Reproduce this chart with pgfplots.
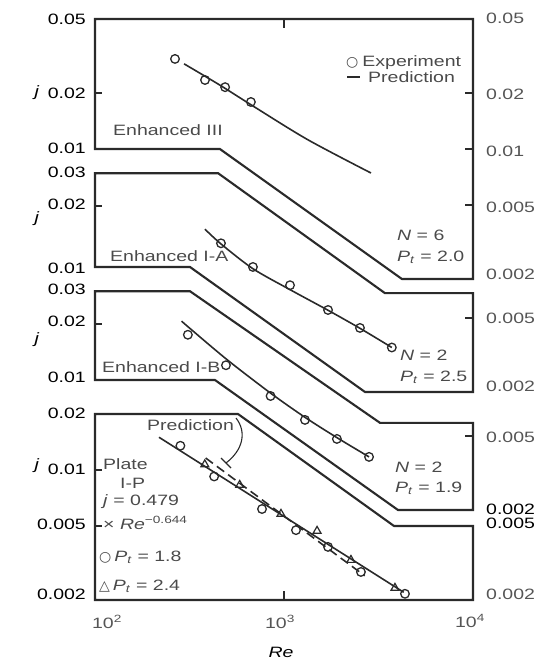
\documentclass[border=0pt]{standalone}
\usepackage{pgfplots}
\pgfplotsset{compat=1.18}
\usepackage{fontspec}
\setmainfont{Liberation Sans}[FakeStretch=1.3]
\newfontfamily\sym{DejaVu Sans}
\definecolor{ink}{HTML}{2A2A2A}
\definecolor{txt}{HTML}{4A4A4A}
\definecolor{rtxt}{HTML}{555555}
\tikzset{myframe/.style={draw=ink, line width=2.1pt, line join=miter},
  mytk/.style={draw=ink, line width=1.3pt},
  labL/.style={anchor=east, inner sep=0pt, text=black},
  labR/.style={anchor=west, inner sep=0pt, text=rtxt},
  labT/.style={anchor=west, inner sep=0pt, text=txt}}
\begin{document}
\fontsize{15}{17}\selectfont
\begin{tikzpicture}
\path[use as bounding box] (0pt,0pt) rectangle (537pt,-661pt);
% ---------------- Panel 1: Enhanced III
\begin{axis}[xmode=log, ymode=log, xmin=100, xmax=10000, scale only axis, width=378pt, hide axis, clip=false, anchor=south west, ymin=0.002, ymax=0.05, height=260pt, at={(95pt,-279pt)}]
\draw[myframe] (axis cs:100,0.05) -- (axis cs:10000,0.05) -- (axis cs:10000,0.002) -- (axis cs:4207,0.002) -- (axis cs:458,0.01) -- (axis cs:100,0.01) -- cycle;
\draw[mytk] (axis cs:100,0.02) -- ++(7pt,0pt);
\draw[mytk] (axis cs:10000,0.02) -- ++(-8pt,0pt);
\draw[mytk] (axis cs:10000,0.01) -- ++(-8pt,0pt);
\draw[mytk] (axis cs:10000,0.005) -- ++(-8pt,0pt);
\draw[mytk] (axis cs:1000,0.05) -- ++(0pt,-9pt);
\addplot[only marks, mark=o, mark size=4.3pt, mark options={draw=ink, line width=1.3pt}] coordinates {(265,0.0305) (382,0.0235) (488,0.0215) (668,0.0179)};
\addplot[ink, line width=1.6pt, no marks, smooth] coordinates {(296,0.0287) (453,0.0222) (700,0.0168) (1340,0.0112) (2885,0.00743)};
\end{axis}
% ---------------- Panel 2: Enhanced I-A
\begin{axis}[xmode=log, ymode=log, xmin=100, xmax=10000, scale only axis, width=378pt, hide axis, clip=false, anchor=south west, ymin=0.002, ymax=0.03, height=218.8pt, at={(95pt,-392pt)}]
\draw[myframe] (axis cs:100,0.03) -- (axis cs:448,0.03) -- (axis cs:3420,0.0068) -- (axis cs:10000,0.0068) -- (axis cs:10000,0.002) -- (axis cs:2684,0.002) -- (axis cs:318,0.0094) -- (axis cs:100,0.0094) -- cycle;
\draw[mytk] (axis cs:100,0.02) -- ++(7pt,0pt);
\draw[mytk] (axis cs:10000,0.005) -- ++(-8pt,0pt);
\addplot[only marks, mark=o, mark size=4.3pt, mark options={draw=ink, line width=1.3pt}] coordinates {(464,0.0126) (685,0.0094) (1076,0.0075) (1710,0.00552) (2523,0.00442) (3720,0.00347)};
\addplot[ink, line width=1.6pt, no marks, smooth] coordinates {(382,0.0150) (464,0.0125) (685,0.0092) (1076,0.0071) (1710,0.0055) (2523,0.0044) (3720,0.00347)};
\end{axis}
% ---------------- Panel 3: Enhanced I-B
\begin{axis}[xmode=log, ymode=log, xmin=100, xmax=10000, scale only axis, width=378pt, hide axis, clip=false, anchor=south west, ymin=0.002, ymax=0.03, height=218.8pt, at={(95pt,-510pt)}]
\draw[myframe] (axis cs:100,0.03) -- (axis cs:318,0.03) -- (axis cs:3222,0.00588) -- (axis cs:10000,0.00588) -- (axis cs:10000,0.002) -- (axis cs:4010,0.002) -- (axis cs:431,0.01) -- (axis cs:100,0.01) -- cycle;
\draw[mytk] (axis cs:100,0.02) -- ++(7pt,0pt);
\draw[mytk] (axis cs:10000,0.005) -- ++(-8pt,0pt);
\addplot[only marks, mark=o, mark size=4.3pt, mark options={draw=ink, line width=1.3pt}] coordinates {(310,0.0175) (493,0.0120) (849,0.0082) (1291,0.0061) (1905,0.00482) (2818,0.00386)};
\addplot[ink, line width=1.6pt, no marks, smooth] coordinates {(287,0.0207) (493,0.0130) (849,0.0085) (1291,0.0063) (1905,0.0049) (2818,0.00386)};
\end{axis}
% ---------------- Panel 4: Plate I-P
\begin{axis}[xmode=log, ymode=log, xmin=100, xmax=10000, scale only axis, width=378pt, hide axis, clip=false, anchor=south west, ymin=0.002, ymax=0.02, height=186pt, at={(95pt,-600pt)}]
\draw[myframe] (axis cs:100,0.02) -- (axis cs:571,0.02) -- (axis cs:3820,0.005) -- (axis cs:10000,0.005) -- (axis cs:10000,0.002) -- (axis cs:100,0.002) -- cycle;
\draw[mytk] (axis cs:100,0.01) -- ++(7pt,0pt);
\draw[mytk] (axis cs:100,0.005) -- ++(7pt,0pt);
\draw[mytk] (axis cs:1000,0.002) -- ++(0pt,9pt);
\addplot[ink, line width=1.6pt, no marks] coordinates {(218,0.0150) (4300,0.0022)};
\addplot[ink, line width=1.6pt, no marks, dash pattern=on 9pt off 5pt] coordinates {(385,0.0116) (2673,0.0027)};
\addplot[only marks, mark=o, mark size=4.3pt, mark options={draw=ink, line width=1.3pt}] coordinates {(283,0.0135) (427,0.00923) (765,0.00617) (1157,0.00475) (1710,0.00386) (2553,0.00283) (4365,0.00216)};
\addplot[only marks, mark=triangle, mark size=4.6pt, mark options={draw=ink, line width=1.2pt}] coordinates {(381,0.0107) (583,0.0083) (964,0.0058) (1496,0.0047) (2260,0.00328) (3864,0.00232)};
\end{axis}
% ---------------- left tick labels
\node[labL] at (86pt,-19pt) {0.05};
\node[labL] at (86pt,-93pt) {0.02};
\node[labL] at (86pt,-148pt) {0.01};
\node[labL] at (86pt,-172pt) {0.03};
\node[labL] at (86pt,-204pt) {0.02};
\node[labL] at (86pt,-268pt) {0.01};
\node[labL] at (86pt,-289pt) {0.03};
\node[labL] at (86pt,-321pt) {0.02};
\node[labL] at (86pt,-377pt) {0.01};
\node[labL] at (86pt,-413pt) {0.02};
\node[labL] at (86pt,-469pt) {0.01};
\node[labL] at (86pt,-524pt) {0.005};
\node[labL] at (86pt,-594pt) {0.002};
% ---------------- right tick labels
\node[labR] at (486pt,-18pt) {0.05};
\node[labR] at (486pt,-94pt) {0.02};
\node[labR] at (486pt,-151pt) {0.01};
\node[labR] at (486pt,-207pt) {0.005};
\node[labR] at (486pt,-274pt) {0.002};
\node[labR] at (486pt,-318pt) {0.005};
\node[labR] at (486pt,-386pt) {0.002};
\node[labR] at (486pt,-437pt) {0.005};
\node[labR, text=black] at (486pt,-509pt) {0.002};
\node[labR, text=black] at (486pt,-523pt) {0.005};
\node[labR] at (486pt,-594pt) {0.002};
% ---------------- x labels
\node[text=rtxt, inner sep=0pt] at (107pt,-622pt) {10\textsuperscript{2}};
\node[text=rtxt, inner sep=0pt] at (280pt,-622pt) {10\textsuperscript{3}};
\node[text=rtxt, inner sep=0pt] at (470pt,-621pt) {10\textsuperscript{4}};
\node[inner sep=0pt] at (281pt,-652pt) {\textit{Re}};
% ---------------- y labels
\node[inner sep=0pt] at (37pt,-93pt) {\textit{j}};
\node[inner sep=0pt] at (37pt,-219pt) {\textit{j}};
\node[inner sep=0pt] at (37pt,-340pt) {\textit{j}};
\node[inner sep=0pt] at (37pt,-466pt) {\textit{j}};
% ---------------- legend of panel 1
\node[labT] at (346pt,-63pt) {{\sym\fontsize{14}{14}\selectfont ○}\hspace{4pt}Experiment};
\draw[ink, line width=2pt] (347pt,-77pt) -- (360pt,-77pt);
\node[labT] at (368pt,-77pt) {Prediction};
% ---------------- panel texts
\node[labT] at (113pt,-130pt) {Enhanced III};
\node[labT] at (397pt,-235pt) {\textit{N} = 6};
\node[labT] at (397pt,-257pt) {\textit{P}\textsubscript{\textit{t}} = 2.0};
\node[labT] at (110pt,-256pt) {Enhanced I-A};
\node[labT] at (400pt,-355pt) {\textit{N} = 2};
\node[labT] at (400pt,-377pt) {\textit{P}\textsubscript{\textit{t}} = 2.5};
\node[labT] at (102pt,-367pt) {Enhanced I-B};
\node[labT] at (395pt,-467pt) {\textit{N} = 2};
\node[labT] at (395pt,-488pt) {\textit{P}\textsubscript{\textit{t}} = 1.9};
\node[labT] at (147pt,-425pt) {Prediction};
\draw[ink, line width=1.1pt] (236pt,-418pt) .. controls (247pt,-432pt) and (243pt,-450pt) .. (226pt,-463pt);
\draw[ink, line width=1.1pt] (221pt,-458pt) -- (231pt,-468pt);
\node[labT] at (103pt,-464pt) {Plate};
\node[labT] at (120pt,-483pt) {I-P};
\node[labT] at (103pt,-502pt) {\textit{j} = 0.479};
\node[labT] at (103pt,-523pt) {× \textit{Re}\textsuperscript{−0.644}};
\node[labT] at (99pt,-557pt) {{\sym\fontsize{14}{14}\selectfont ○}\hspace{3pt}\textit{P}\textsubscript{\textit{t}} = 1.8};
\node[labT] at (99pt,-586pt) {{\sym\fontsize{14}{14}\selectfont △}\hspace{3pt}\textit{P}\textsubscript{\textit{t}} = 2.4};
\end{tikzpicture}
\end{document}
